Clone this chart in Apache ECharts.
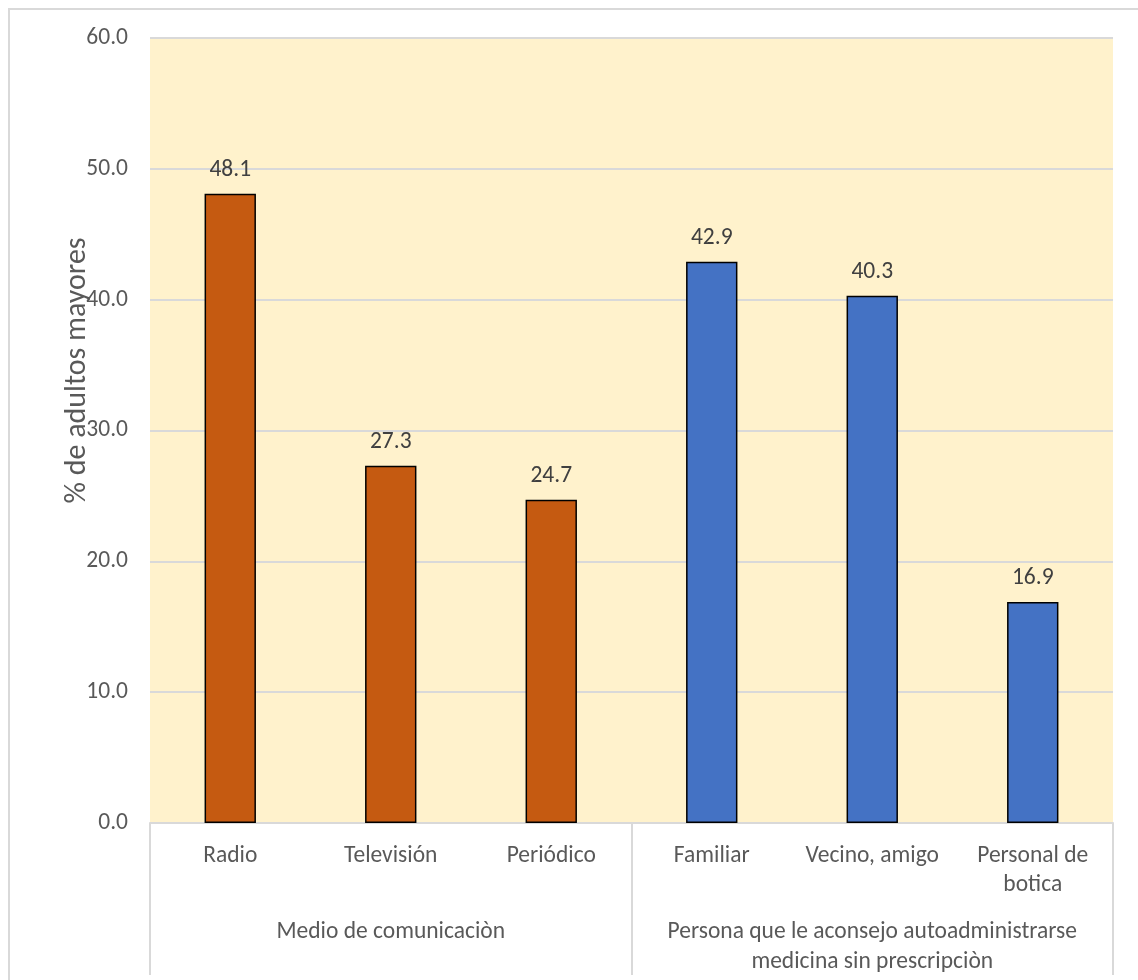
<!DOCTYPE html>
<html>
<head>
<meta charset="utf-8">
<script src="https://cdn.jsdelivr.net/npm/echarts@6/dist/echarts.min.js"></script>
<style>
  html, body { margin: 0; padding: 0; background: #ffffff; }
  #frame { position: absolute; left: 8px; top: 8px; width: 1200px; height: 1100px;
           border: 2px solid #d9d9d9; box-sizing: border-box; }
  #chart { position: absolute; left: 0; top: 0; width: 1138px; height: 980px; }
</style>
</head>
<body>
<div id="frame"></div>
<div id="chart"></div>
<script>
// Categories, their groups and values (% de adultos mayores)
const categories = ['Radio', 'Televisión', 'Periódico', 'Familiar', 'Vecino, amigo', 'Personal de\nbotica'];
const values = [48.1, 27.3, 24.7, 42.9, 40.3, 16.9];
const categoryGroup = [0, 0, 0, 1, 1, 1];
const groups = ['Medio de comunicaciòn', 'Persona que le aconsejo autoadministrarse\nmedicina sin prescripciòn'];
const groupColors = ['#C55A11', '#4472C4'];
const yTicks = { min: 0, max: 60, interval: 10 };

const FONT = 'Carlito, Lato, sans-serif';
const SIZE = 23.5;

const chart = echarts.init(document.getElementById('chart'), null, { renderer: 'canvas' });

chart.setOption({
  animation: false,
  backgroundColor: 'transparent',
  grid: {
    left: 150, right: 25, top: 38, bottom: 157,
    show: true, backgroundColor: '#FFF2CC', borderWidth: 0
  },
  xAxis: [
    {
      type: 'category',
      data: categories,
      position: 'bottom',
      axisLine: { show: true, lineStyle: { color: '#d9d9d9', width: 2 } },
      axisTick: { show: false },
      axisLabel: {
        interval: 0, margin: 19, color: '#595959',
        fontFamily: FONT, fontSize: SIZE, lineHeight: 29
      }
    },
    {
      // group row: ticks act as the vertical separators between groups
      type: 'category',
      data: groups,
      position: 'bottom',
      boundaryGap: true,
      axisLine: { show: false },
      axisTick: { show: true, length: 152, interval: 0, lineStyle: { color: '#d9d9d9', width: 2 } },
      axisLabel: {
        interval: 0, margin: 94, color: '#595959',
        fontFamily: FONT, fontSize: SIZE, lineHeight: 30, align: 'center'
      },
      splitLine: { show: false }
    }
  ],
  yAxis: {
    type: 'value',
    min: yTicks.min, max: yTicks.max, interval: yTicks.interval,
    name: '% de adultos mayores',
    nameLocation: 'middle',
    nameGap: 58,
    nameMoveOverlap: false,
    nameTextStyle: { color: '#595959', fontFamily: FONT, fontSize: 30, padding: [0, 0, 0, 120] },
    axisLine: { show: false },
    axisTick: { show: false },
    axisLabel: {
      color: '#595959', fontFamily: FONT, fontSize: SIZE, margin: 22,
      formatter: v => v.toFixed(1)
    },
    splitLine: { show: true, lineStyle: { color: '#d9d9d9', width: 2 } }
  },
  series: [
    {
      type: 'bar',
      xAxisIndex: 0,
      barWidth: '32%',
      data: values.map((v, i) => ({
        value: v,
        itemStyle: { color: groupColors[categoryGroup[i]] }
      })),
      itemStyle: { borderColor: '#000000', borderWidth: 1.5 },
      label: {
        show: true, position: 'top', distance: 12,
        color: '#404040', fontFamily: FONT, fontSize: SIZE,
        formatter: p => p.value.toFixed(1)
      }
    }
  ]
});
</script>
</body>
</html>
